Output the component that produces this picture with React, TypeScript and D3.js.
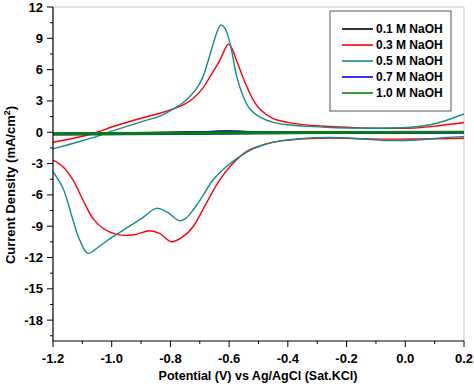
import * as d3 from 'd3'

type Pt = [number, number]

// potential (V) vs current density (mA/cm2)
const seriesNames = ['0.1 M NaOH', '0.3 M NaOH', '0.5 M NaOH', '0.7 M NaOH', '1.0 M NaOH']
const seriesColors = ['#000000', '#ff0000', '#168a8a', '#0000ff', '#0a7d14']

const naoh01Up: Pt[] = [[-1.2, -0.1], [-0.9, -0.05], [-0.7, 0.05], [-0.6, 0.12], [-0.5, 0.05], [-0.2, 0.0], [0.2, 0.05]]
const naoh01Down: Pt[] = [[-1.2, -0.2], [-0.8, -0.15], [-0.5, -0.1], [0.2, -0.05]]

const naoh03Up: Pt[] = [
  [-1.2, -0.96], [-1.13, -0.58], [-1.05, 0.0], [-1.0, 0.5], [-0.9, 1.34], [-0.836, 1.82], [-0.79, 2.24],
  [-0.756, 2.62], [-0.722, 3.26], [-0.69, 4.2], [-0.665, 5.33], [-0.631, 6.93], [-0.612, 8.1], [-0.603, 8.44],
  [-0.592, 8.1], [-0.575, 6.9], [-0.552, 5.2], [-0.52, 3.2], [-0.495, 2.2], [-0.45, 1.3], [-0.4, 0.95],
  [-0.33, 0.68], [-0.256, 0.55], [-0.15, 0.42], [-0.05, 0.38], [0.028, 0.4], [0.107, 0.6], [0.2, 0.93],
]
const naoh03Down: Pt[] = [
  [-1.2, -2.66], [-1.166, -3.3], [-1.132, -4.57], [-1.098, -6.49], [-1.064, -8.25], [-1.03, -9.2],
  [-0.984, -9.78], [-0.928, -9.85], [-0.871, -9.43], [-0.837, -9.69], [-0.797, -10.49], [-0.757, -10.0],
  [-0.723, -9.05], [-0.678, -6.81], [-0.632, -4.57], [-0.587, -2.98], [-0.541, -1.86], [-0.5, -1.35],
  [-0.45, -0.95], [-0.37, -0.68], [-0.256, -0.56], [-0.143, -0.62], [-0.05, -0.66], [0.05, -0.64], [0.2, -0.58],
]

const naoh05Up: Pt[] = [
  [-1.2, -1.6], [-1.13, -1.05], [-1.05, -0.4], [-1.0, 0.1], [-0.9, 1.0], [-0.836, 1.55], [-0.79, 2.24],
  [-0.756, 2.85], [-0.73, 3.55], [-0.705, 4.45], [-0.688, 5.4], [-0.671, 6.9], [-0.654, 8.5],
  [-0.64, 9.7], [-0.628, 10.29], [-0.615, 10.0], [-0.597, 8.53], [-0.574, 5.33], [-0.55, 3.3],
  [-0.529, 2.2], [-0.495, 1.45], [-0.45, 0.95], [-0.4, 0.72], [-0.33, 0.56], [-0.256, 0.46],
  [-0.15, 0.4], [-0.086, 0.38], [0.028, 0.5], [0.107, 0.86], [0.2, 1.75],
]
const naoh05Down: Pt[] = [
  [-1.2, -3.78], [-1.166, -5.37], [-1.132, -8.41], [-1.109, -10.33], [-1.081, -11.6], [-1.041, -10.9],
  [-0.996, -10.0], [-0.939, -9.0], [-0.893, -8.15], [-0.848, -7.29], [-0.814, -7.6], [-0.769, -8.47],
  [-0.75, -8.3], [-0.72, -7.35], [-0.69, -6.1], [-0.655, -4.57], [-0.61, -3.3], [-0.564, -2.34],
  [-0.519, -1.6], [-0.484, -1.22], [-0.43, -0.85], [-0.37, -0.64], [-0.256, -0.51], [-0.143, -0.64],
  [-0.052, -0.8], [0.039, -0.74], [0.13, -0.52], [0.2, -0.42],
]

const naoh07Up: Pt[] = [[-1.2, -0.15], [-0.9, -0.1], [-0.7, 0.02], [-0.62, 0.1], [-0.52, 0.04], [-0.2, 0.02], [0.2, 0.05]]
const naoh07Down: Pt[] = [[-1.2, -0.25], [-0.8, -0.2], [-0.5, -0.12], [0.2, -0.06]]

const naoh10Up: Pt[] = [[-1.2, -0.08], [-0.6, 0.0], [0.2, 0.06]]
const naoh10Down: Pt[] = [[-1.2, -0.22], [-0.6, -0.12], [0.2, -0.02]]

const xTicks = [-1.2, -1.0, -0.8, -0.6, -0.4, -0.2, 0.0, 0.2]
const yTicks = [-18, -15, -12, -9, -6, -3, 0, 3, 6, 9, 12]

const width = 474
const height = 392
const left = 53
const right = 464
const top = 7
const bottom = 341

const font = '"Liberation Sans", Arial, sans-serif'

export default function App() {
  const x = d3.scaleLinear().domain([-1.2, 0.2]).range([left, right])
  const y = d3.scaleLinear().domain([-20, 12]).range([bottom, top])

  const line = d3
    .line<Pt>()
    .x((d) => x(d[0]))
    .y((d) => y(d[1]))
    .curve(d3.curveCatmullRom.alpha(0.5))

  const xMinor = d3.range(-1.1, 0.2, 0.2)
  const yMinor = d3.range(-19.5, 12, 3)

  // draw order: red, teal, then the flat ones on top
  const curves: { data: Pt[]; color: string; w: number }[] = [
    { data: naoh03Up, color: seriesColors[1], w: 1.4 },
    { data: naoh03Down, color: seriesColors[1], w: 1.4 },
    { data: naoh05Up, color: seriesColors[2], w: 1.4 },
    { data: naoh05Down, color: seriesColors[2], w: 1.4 },
    { data: naoh01Up, color: seriesColors[0], w: 1.4 },
    { data: naoh01Down, color: seriesColors[0], w: 1.4 },
    { data: naoh07Up, color: seriesColors[3], w: 1.4 },
    { data: naoh07Down, color: seriesColors[3], w: 1.4 },
    { data: naoh10Up, color: seriesColors[4], w: 1.8 },
    { data: naoh10Down, color: seriesColors[4], w: 1.8 },
  ]

  return (
    <svg width={width} height={height} style={{ position: 'absolute', left: 0, top: 0, background: '#fff' }} fontFamily={font}>
      <defs>
        <clipPath id="plot">
          <rect x={left} y={top} width={right - left} height={bottom - top} />
        </clipPath>
      </defs>

      {/* frame: top and right light grey */}
      <line x1={left} x2={right} y1={top} y2={top} stroke="#c4c4c4" />
      <line x1={right} x2={right} y1={top} y2={bottom} stroke="#c4c4c4" />

      <g clipPath="url(#plot)">
        {curves.map((c, i) => (
          <path key={i} d={line(c.data) || ''} fill="none" stroke={c.color} strokeWidth={c.w} />
        ))}
      </g>

      {/* axes */}
      <line x1={left} x2={right} y1={bottom} y2={bottom} stroke="#000" strokeWidth={1.2} />
      <line x1={left} x2={left} y1={top} y2={bottom} stroke="#000" strokeWidth={1.2} />

      {xTicks.map((t) => (
        <g key={'x' + t}>
          <line x1={x(t)} x2={x(t)} y1={bottom} y2={bottom + 6} stroke="#000" />
          <text x={x(t)} y={bottom + 22} textAnchor="middle" fontSize={13} fontWeight="bold">
            {t.toFixed(1)}
          </text>
        </g>
      ))}
      {xMinor.map((t) => (
        <line key={'xm' + t} x1={x(t)} x2={x(t)} y1={bottom} y2={bottom + 3} stroke="#000" />
      ))}

      {yTicks.map((t) => (
        <g key={'y' + t}>
          <line x1={left - 6} x2={left} y1={y(t)} y2={y(t)} stroke="#000" />
          <text x={left - 10} y={y(t) + 4.5} textAnchor="end" fontSize={13} fontWeight="bold">
            {t}
          </text>
        </g>
      ))}
      {yMinor.map((t) => (
        <line key={'ym' + t} x1={left - 3} x2={left} y1={y(t)} y2={y(t)} stroke="#000" />
      ))}

      <text x={258} y={380} textAnchor="middle" fontSize={12.5} fontWeight="bold">
        Potential (V) vs Ag/AgCl (Sat.KCl)
      </text>
      <text transform="translate(15,185) rotate(-90)" textAnchor="middle" fontSize={13} fontWeight="bold">
        Current Density (mA/cm<tspan dy={-5} fontSize={9}>2</tspan>
        <tspan dy={5}>)</tspan>
      </text>

      {/* legend */}
      <rect x={330} y={11} width={121} height={100} fill="#fff" stroke="#555" strokeWidth={1} />
      {seriesNames.map((name, i) => (
        <g key={name}>
          <line x1={342} x2={373} y1={29 + i * 16} y2={29 + i * 16} stroke={seriesColors[i]} strokeWidth={1.6} />
          <text x={376} y={29 + i * 16 + 4.3} fontSize={12} fontWeight="bold">
            {name}
          </text>
        </g>
      ))}
    </svg>
  )
}
